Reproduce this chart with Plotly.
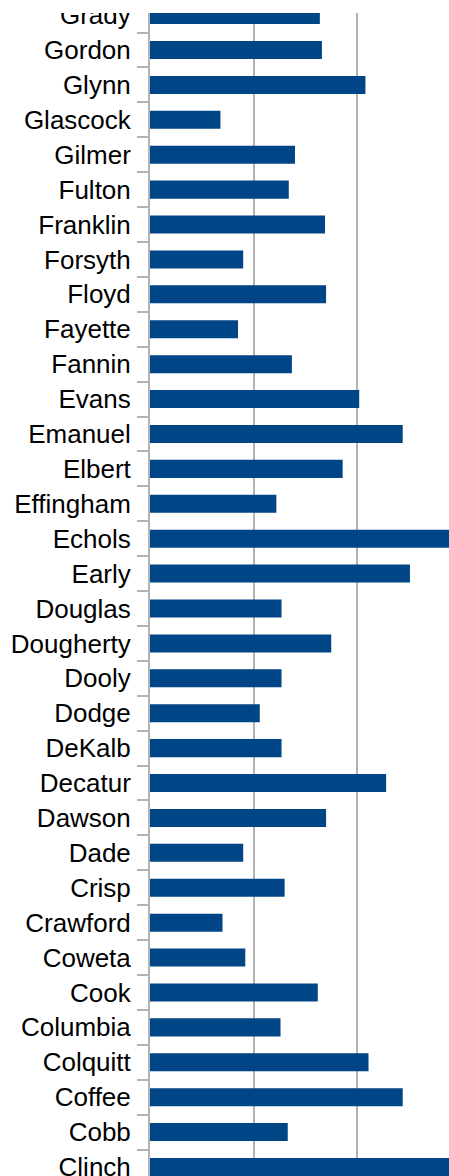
import plotly.graph_objects as go

counties = ["Clinch", "Cobb", "Coffee", "Colquitt", "Columbia", "Cook", "Coweta",
            "Crawford", "Crisp", "Dade", "Dawson", "Decatur", "DeKalb", "Dodge",
            "Dooly", "Dougherty", "Douglas", "Early", "Echols", "Effingham",
            "Elbert", "Emanuel", "Evans", "Fannin", "Fayette", "Floyd", "Forsyth",
            "Franklin", "Fulton", "Gilmer", "Glascock", "Glynn", "Gordon", "Grady"]
values = [30.0, 13.3, 24.4, 21.1, 12.6, 16.2, 9.2,
          7.0, 13.0, 9.0, 17.0, 22.8, 12.7, 10.6,
          12.7, 17.5, 12.7, 25.1, 31.0, 12.2,
          18.6, 24.4, 20.2, 13.7, 8.5, 17.0, 9.0,
          16.9, 13.4, 14.0, 6.8, 20.8, 16.6, 16.4]

W, H = 449, 1176
ML, MT, MB, MR = 150, 13, 0, 0

fig = go.Figure(go.Bar(
    x=values, y=counties, orientation="h",
    marker=dict(color="#004586", line=dict(width=0)),
    width=0.516,
))

fig.update_layout(
    width=W, height=H, autosize=False,
    margin=dict(l=ML, r=MR, t=MT, b=MB, pad=0, autoexpand=False),
    paper_bgcolor="white", plot_bgcolor="white",
    showlegend=False,
    font=dict(family="Liberation Sans", size=26, color="#000000"),
    xaxis=dict(range=[0, 28.87], dtick=10, showgrid=True, gridcolor="#b3b3b3",
               gridwidth=1.5, zeroline=False, showticklabels=False, ticks="",
               showline=False, fixedrange=True, automargin=False),
    yaxis=dict(type="category", categoryorder="array", categoryarray=counties,
               range=[-0.258, 33.06], showgrid=False, zeroline=False,
               showline=True, linecolor="#b3b3b3", linewidth=2,
               ticks="outside", tickson="boundaries", ticklen=11,
               tickcolor="#b3b3b3", tickwidth=1.5, ticklabelstandoff=12,
               automargin=False,
               tickfont=dict(family="Liberation Sans", size=26, color="#000000")),
    shapes=[dict(type="rect", xref="paper", yref="paper",
                 x0=-1, x1=1.1, y0=1.0, y1=1.0 + (MT + 2) / (H - MT - MB),
                 fillcolor="white", line=dict(width=0), layer="above")],
)

fig.write_html("out.html", config={"responsive": False, "displayModeBar": False})

with open("out.html", "r", encoding="utf-8") as f:
    html = f.read()
html = html.replace("<head>", "<head><style>html,body{margin:0;padding:0;overflow:hidden;}</style>", 1)
with open("out.html", "w", encoding="utf-8") as f:
    f.write(html)
